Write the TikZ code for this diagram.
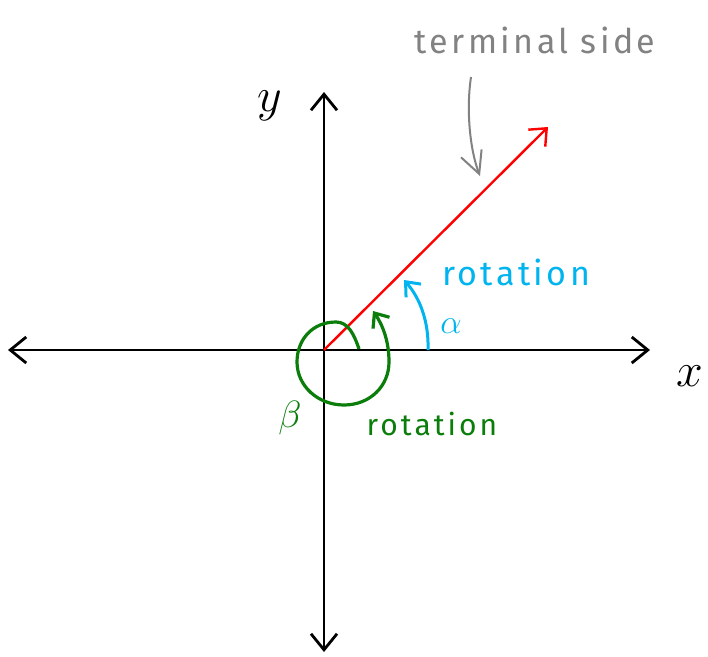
\RequirePackage{fix-cm}
\documentclass[tikz,border=0pt]{standalone}
\usepackage{fontspec}
\setmainfont{Fira Sans}
\newfontfamily\handfont{Fira Sans}[LetterSpace=10]
\usetikzlibrary{arrows.meta}
\definecolor{cyanc}{RGB}{0,180,240}
\definecolor{greenc}{RGB}{10,125,10}
\definecolor{grayc}{RGB}{130,130,130}
\tikzset{
  axis/.style={line width=2.8pt, black, -{Straight Barb[length=16pt,width=26pt,line width=2.8pt]}},
  termline/.style={line width=2.4pt, red, -{Straight Barb[length=14pt,width=24pt,line width=2.4pt]}},
  cyanarr/.style={line width=3pt, cyanc, -{Straight Barb[length=12pt,width=20pt,line width=3pt]}},
  greenarr/.style={line width=3.2pt, greenc, -{Straight Barb[length=12pt,width=20pt,line width=3.2pt]}},
  grayarr/.style={line width=2pt, grayc, -{Straight Barb[length=22pt,width=22pt,line width=2pt]}},
  lbl/.style={inner sep=0pt, anchor=center},
}
\begin{document}
\begin{tikzpicture}[x=1pt,y=-1pt]
\useasboundingbox (0,0) rectangle (708,656);
\coordinate (O) at (324,350);
\coordinate (xl) at (8,350);
\coordinate (xr) at (650,350);
\coordinate (yt) at (324,92);
\coordinate (yb) at (324,652);
\coordinate (T) at (548,127);
\draw[axis] (O) -- (xr);
\draw[axis] (O) -- (xl);
\draw[axis] (O) -- (yt);
\draw[axis] (O) -- (yb);
\draw[termline] (O) -- (T);
% cyan arc alpha
\coordinate (ca) at (428,350);
\coordinate (cb) at (404,280);
\draw[cyanarr] (ca) .. controls (429,322) and (420,298) .. (cb);
% green circle beta
\coordinate (ga) at (359,349);
\coordinate (gb) at (373,311);
\draw[greenarr] (ga) .. controls (354,334) and (348,322) .. (336,322)
  .. controls (312,322) and (297,340) .. (297,362)
  .. controls (297,386) and (318,405) .. (344,405)
  .. controls (370,405) and (389,386) .. (389,362)
  .. controls (389,340) and (382,324) .. (gb);
% gray arrow
\coordinate (gra) at (471,77);
\coordinate (grb) at (480,176);
\draw[grayarr] (gra) .. controls (466,110) and (470,150) .. (grb);
% labels
\node[lbl, text=grayc, font=\handfont\fontsize{34}{38}\selectfont] (term) at (535,40) {terminal side};
\node[lbl, text=cyanc, font=\handfont\fontsize{34}{38}\selectfont] (rot1) at (516,272) {rotation};
\node[lbl, text=cyanc, font=\fontsize{34}{38}\selectfont] (alpha) at (451,326) {$\alpha$};
\node[lbl, text=greenc, font=\handfont\fontsize{30}{34}\selectfont] (rot2) at (432,424) {rotation};
\node[lbl, text=greenc, font=\fontsize{38}{42}\selectfont] (beta) at (290,418) {$\beta$};
\node[lbl, font=\fontsize{48}{52}\selectfont] (xlab) at (690,376) {$x$};
\node[lbl, font=\fontsize{48}{52}\selectfont] (ylab) at (270,106) {$y$};
\end{tikzpicture}
\end{document}
